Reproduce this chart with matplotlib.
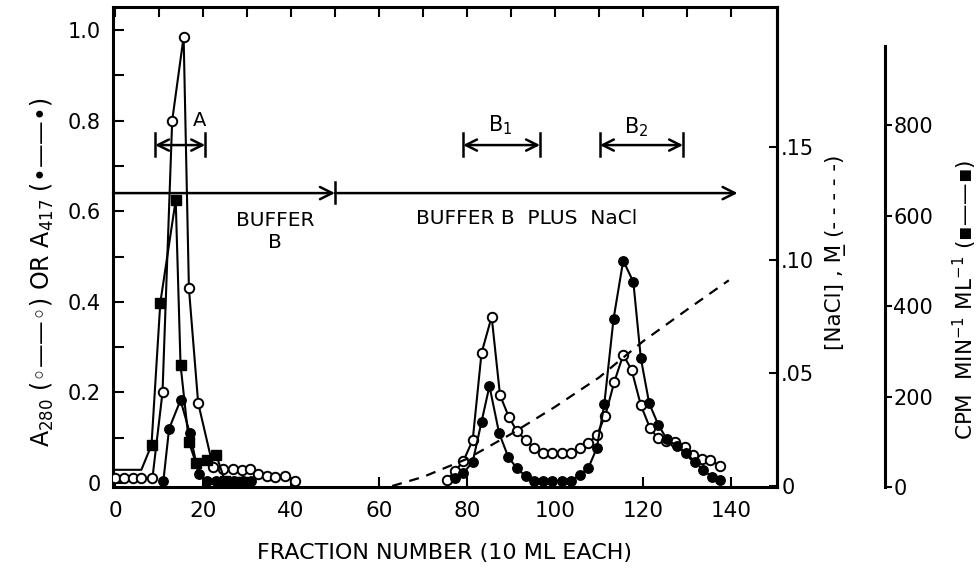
import numpy as np
import matplotlib
matplotlib.use("Agg")
import matplotlib.pyplot as plt
from matplotlib.ticker import FixedLocator, FixedFormatter

plt.rcParams['font.family'] = ['DejaVu Sans']
plt.rcParams['mathtext.default'] = 'regular'

# ---------------- data ----------------
# A280 (open circles) – first peak (fraction A)
a280_x1 = [0, 2, 4, 6, 8.5, 10.8, 13.0, 15.6, 16.8, 18.9, 22.3, 24.5, 26.8, 28.9,
           30.7, 32.5, 34.5, 36.4, 38.6, 40.9]
a280_y1 = [0.01, 0.01, 0.01, 0.01, 0.01, 0.20, 0.80, 0.985, 0.43, 0.177, 0.035, 0.03,
           0.03, 0.028, 0.03, 0.02, 0.015, 0.014, 0.015, 0.005]
# A280 – B1 / B2 region
a280_x2 = [75.4, 77.3, 79.2, 81.3, 83.3, 85.6, 87.5, 89.5, 91.3, 93.3, 95.3, 97.3,
           99.4, 101.5, 103.6, 105.7, 107.6, 109.5, 111.4, 113.5, 115.5, 117.4, 119.5,
           121.6, 123.3, 125.3, 127.3, 129.5, 131.4, 133.3, 135.2, 137.5]
a280_y2 = [0.007, 0.026, 0.049, 0.095, 0.287, 0.367, 0.194, 0.146, 0.115, 0.095, 0.077,
           0.066, 0.066, 0.066, 0.066, 0.077, 0.088, 0.106, 0.148, 0.224, 0.283, 0.25,
           0.172, 0.121, 0.10, 0.093, 0.091, 0.08, 0.062, 0.053, 0.051, 0.038]

# A417 (filled circles)
a417_x1 = [11, 12.3, 14.9, 17.0, 19, 21, 23, 25, 27, 29, 31]
a417_y1 = [0.005, 0.12, 0.183, 0.11, 0.02, 0.005, 0.005, 0.005, 0.005, 0.005, 0.005]
a417_x2 = [77.3, 79.2, 81.3, 83.3, 85.1, 87.3, 89.4, 91.3, 93.3, 95.3, 97.3, 99.4,
           101.5, 103.6, 105.7, 107.6, 109.5, 111.2, 113.3, 115.5, 117.8, 119.5, 121.4,
           123.5, 125.4, 127.7, 129.8, 131.8, 133.7, 135.6, 137.5]
a417_y2 = [0.011, 0.022, 0.047, 0.135, 0.214, 0.11, 0.057, 0.033, 0.015, 0.005, 0.004,
           0.004, 0.004, 0.005, 0.018, 0.034, 0.077, 0.174, 0.362, 0.491, 0.444, 0.276,
           0.176, 0.128, 0.097, 0.082, 0.066, 0.047, 0.029, 0.014, 0.007]

# CPM (filled squares)
cpm_x = [0, 6, 8.3, 10.3, 13.8, 14.9, 16.8, 18.4, 20.9, 23.0, 25, 27, 29]
cpm_y = [38, 38, 93, 407, 634, 270, 99, 53, 60, 71, 13, 10, 10]

# NaCl gradient (dashed)
nacl_x = [63, 70, 80, 90, 100, 110, 120, 130, 139.5]
nacl_y = [0.0, 0.004, 0.012, 0.023, 0.035, 0.048, 0.064, 0.078, 0.091]

# ticks
x_ticks = [0, 20, 40, 60, 80, 100, 120, 140]
x_ticklabels = ['0', '20', '40', '60', '80', '100', '120', '140']
y_ticks = [0, 0.2, 0.4, 0.6, 0.8, 1.0]
y_ticklabels = ['0', '0.2', '0.4', '0.6', '0.8', '1.0']
nacl_ticks = [0, 0.05, 0.10, 0.15]
nacl_ticklabels = ['0', '.05', '.10', '.15']
cpm_ticks = [0, 200, 400, 600, 800]
cpm_ticklabels = ['0', '200', '400', '600', '800']

# ---------------- figure ----------------
W, H = 978, 570
fig = plt.figure(figsize=(W / 100, H / 100), dpi=100)
ax = fig.add_axes([113 / W, 83 / H, 664 / W, 480 / H])
ax.set_xlim(-0.45, 150.45)
ax.set_ylim(-0.0088, 1.0508)

lw = 1.5
for s in ax.spines.values():
    s.set_linewidth(2.2)

ms = 6.8
ax.plot(a280_x1, a280_y1, '-', color='k', lw=lw, marker='o', ms=ms,
        mfc='white', mec='k', mew=1.4, zorder=4)
ax.plot(a280_x2, a280_y2, '-', color='k', lw=lw, marker='o', ms=ms,
        mfc='white', mec='k', mew=1.4, zorder=4)
ax.plot(a417_x1, a417_y1, '-', color='k', lw=lw, marker='o', ms=ms,
        mfc='k', mec='k', zorder=5)
ax.plot(a417_x2, a417_y2, '-', color='k', lw=lw, marker='o', ms=ms,
        mfc='k', mec='k', zorder=5)

# ticks main axes
ax.xaxis.set_ticks_position('both')
ax.xaxis.set_major_locator(FixedLocator(x_ticks))
ax.xaxis.set_major_formatter(FixedFormatter(x_ticklabels))
ax.xaxis.set_minor_locator(FixedLocator([10, 30, 50, 70, 90, 110, 130]))
ax.yaxis.set_major_locator(FixedLocator(y_ticks))
ax.yaxis.set_major_formatter(FixedFormatter(y_ticklabels))
ax.yaxis.set_minor_locator(FixedLocator([0.1, 0.3, 0.5, 0.7, 0.9]))
ax.tick_params(axis='x', which='both', direction='in', length=7, width=1.5,
               labelsize=15.5, pad=10)
ax.tick_params(axis='x', which='minor', bottom=False, top=True)
ax.tick_params(axis='y', which='both', direction='in', length=8, width=1.5,
               labelsize=15, pad=9, right=False)

# NaCl axis
axn = ax.twinx()
axn.set_ylim(-0.00044, 0.2119)
axn.plot(nacl_x, nacl_y, color='k', lw=1.6, dashes=(4.5, 3.5))
axn.yaxis.set_major_locator(FixedLocator(nacl_ticks))
axn.yaxis.set_major_formatter(FixedFormatter(nacl_ticklabels))
axn.tick_params(axis='y', direction='in', length=6, width=1.5, labelsize=15, pad=3)
for k, s in axn.spines.items():
    s.set_visible(k == 'right')
    s.set_linewidth(2.2)

# CPM axis
axc = ax.twinx()
axc.set_ylim(0, 1060.8)
axc.spines['right'].set_position(('axes', (885 - 113) / 664))
axc.spines['right'].set_bounds(0, 975)
axc.spines['right'].set_linewidth(2.2)
for k in ['left', 'top', 'bottom']:
    axc.spines[k].set_visible(False)
axc.yaxis.set_major_locator(FixedLocator(cpm_ticks))
axc.yaxis.set_major_formatter(FixedFormatter(cpm_ticklabels))
axc.tick_params(axis='y', direction='out', length=5, width=1.5, labelsize=15, pad=1)
axc.plot(cpm_x, cpm_y, '-', color='k', lw=lw, marker='s', ms=6.8, mfc='k', mec='k',
         markevery=slice(2, None), clip_on=False)

# ---------------- annotations ----------------
arrow_kw = dict(arrowstyle='->', lw=1.8, color='k', shrinkA=0, shrinkB=0,
                mutation_scale=22)
ax.annotate('', xy=(50, 0.64), xytext=(-0.45, 0.64), arrowprops=arrow_kw)
ax.annotate('', xy=(141.5, 0.64), xytext=(50, 0.64), arrowprops=arrow_kw)
ax.plot([50, 50], [0.618, 0.665], color='k', lw=1.8)

dbl_kw = dict(arrowstyle='<->', lw=1.8, color='k', shrinkA=0, shrinkB=0,
              mutation_scale=20)
for (x0, x1) in [(9.1, 20.5), (79.1, 96.6), (110.2, 129.1)]:
    ax.annotate('', xy=(x1, 0.746), xytext=(x0, 0.746), arrowprops=dbl_kw)
    ax.plot([x0, x0], [0.722, 0.772], color='k', lw=1.8)
    ax.plot([x1, x1], [0.722, 0.772], color='k', lw=1.8)

ax.text(19.3, 0.80, 'A', fontsize=14, ha='center', va='center')
ax.text(87.5, 0.79, 'B$_1$', fontsize=15, ha='center', va='center')
ax.text(118.4, 0.785, 'B$_2$', fontsize=15, ha='center', va='center')
ax.text(36.4, 0.555, 'BUFFER\nB', fontsize=14.5, ha='center', va='center',
        linespacing=1.2)
ax.text(93.5, 0.585, 'BUFFER B  PLUS  NaCl', fontsize=14.5, ha='center',
        va='center')

# axis labels
fig.text(445 / W, 1 - 553 / H, 'FRACTION NUMBER (10 ML EACH)', fontsize=16,
         ha='center', va='center')
fig.text(42 / W, 1 - 272 / H, 'A$_{280}$ (\u25e6\u2014\u2014\u25e6) OR A$_{417}$ (\u2022\u2014\u2014\u2022)',
         fontsize=17, rotation=90, ha='center', va='center')
fig.text(836 / W, 1 - 252 / H, '[NaCl] , M\u0332 (- - - - -)', fontsize=15.5,
         rotation=90, ha='center', va='center')
fig.text(965 / W, 1 - 300 / H, 'CPM  MIN$^{-1}$ ML$^{-1}$ (\u25aa\u2014\u2014\u25aa)', fontsize=15.5,
         rotation=90, ha='center', va='center')

fig.savefig('out.png', dpi=100)
